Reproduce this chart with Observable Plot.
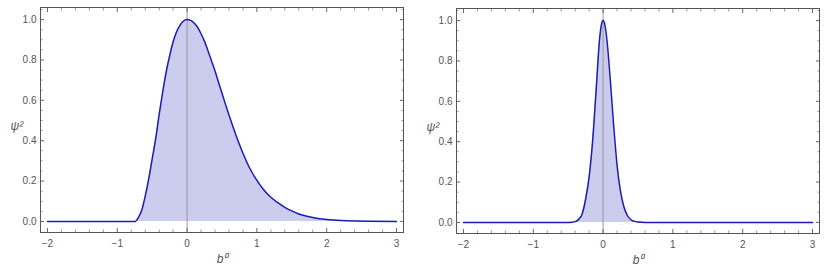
<!DOCTYPE html>
<html>
<head>
<meta charset="utf-8">
<script src="https://cdn.jsdelivr.net/npm/d3@7"></script>
<script src="https://cdn.jsdelivr.net/npm/@observablehq/plot@0.6"></script>
<style>
  html, body { margin: 0; padding: 0; background: white; }
  #row { display: flex; flex-direction: row; width: 831px; height: 274px; }
</style>
</head>
<body>
<div id="row"></div>
<script>
// Left panel: b0 values and psi^2 values
const leftB = [-2, -0.74, -0.70, -0.65, -0.60, -0.55, -0.50, -0.45, -0.40, -0.35, -0.30, -0.25, -0.20, -0.15, -0.10, -0.05, 0,
  0.05, 0.10, 0.15, 0.20, 0.25, 0.30, 0.35, 0.40, 0.45, 0.50, 0.55, 0.60, 0.65, 0.70, 0.75, 0.80, 0.90, 1.00,
  1.10, 1.20, 1.30, 1.40, 1.50, 1.60, 1.70, 1.80, 1.90, 2.00, 2.20, 2.40, 2.60, 3.00];
const leftPsi = [0, 0, 0.018, 0.055, 0.125, 0.21, 0.31, 0.41, 0.53, 0.64, 0.74, 0.82, 0.89, 0.94, 0.973, 0.993, 1.0,
  0.996, 0.983, 0.962, 0.93, 0.892, 0.845, 0.795, 0.745, 0.69, 0.635, 0.58, 0.527, 0.476, 0.427, 0.381, 0.338, 0.262, 0.203,
  0.156, 0.12, 0.093, 0.07, 0.052, 0.037, 0.027, 0.019, 0.013, 0.009, 0.004, 0.0015, 0.0005, 0];

// Right panel
const rightB = [-2, -0.50, -0.45, -0.40, -0.35, -0.30, -0.25, -0.20, -0.15, -0.10, -0.05, -0.025, 0, 0.025, 0.05,
  0.10, 0.15, 0.20, 0.25, 0.30, 0.35, 0.40, 0.45, 0.50, 0.60, 3.00];
const rightPsi = [0, 0, 0.001, 0.004, 0.015, 0.042, 0.116, 0.226, 0.404, 0.655, 0.91, 0.978, 1.0, 0.98, 0.92,
  0.721, 0.487, 0.284, 0.152, 0.075, 0.033, 0.013, 0.005, 0.002, 0, 0];

// Ticks
const xMajor = [-2, -1, 0, 1, 2, 3];
const xMinor = [-1.8, -1.6, -1.4, -1.2, -0.8, -0.6, -0.4, -0.2, 0.2, 0.4, 0.6, 0.8, 1.2, 1.4, 1.6, 1.8, 2.2, 2.4, 2.6, 2.8];
const yMajor = [0, 0.2, 0.4, 0.6, 0.8, 1.0];
const yMinor = [0.05, 0.1, 0.15, 0.25, 0.3, 0.35, 0.45, 0.5, 0.55, 0.65, 0.7, 0.75, 0.85, 0.9, 0.95, 1.05];

const xLabel = "b\u2070";
const yLabel = "\u03c8\u00b2";

const minus = d => d < 0 ? "\u2212" + Math.abs(d) : String(d);
const fmt1 = d3.format(".1f");

function panel(bs, ps, o) {
  const data = bs.map((b, i) => ({b, p: ps[i]}));
  const tickColor = "#666";
  const minorColor = "#999";
  return Plot.plot({
    width: o.width, height: 274,
    marginLeft: o.marginLeft, marginRight: o.marginRight, marginTop: o.marginTop, marginBottom: o.marginBottom,
    x: {domain: [-2.1, 3.1], label: null, axis: null},
    y: {domain: [-0.055, 1.06], label: null, axis: null},
    style: {fontFamily: "'Liberation Sans', Arial, sans-serif", fontSize: "10px", color: "#555", background: "white", overflow: "visible"},
    marks: [
      Plot.areaY(data, {x: "b", y: "p", y1: 0, fill: "#0000aa", fillOpacity: 0.2, curve: "monotone-x"}),
      Plot.ruleX([0], {stroke: "#999", strokeWidth: 1}),
      Plot.line(data, {x: "b", y: "p", stroke: "#1c1cb4", strokeWidth: 1.5, curve: "monotone-x"}),
      // tick marks (inward)
      Plot.axisX(xMajor, {anchor: "bottom", tickSize: -4, fill: "none", stroke: tickColor, label: null}),
      Plot.axisX(xMajor, {anchor: "top", tickSize: -4, fill: "none", stroke: tickColor, label: null}),
      Plot.axisX(xMinor, {anchor: "bottom", tickSize: -2.5, fill: "none", stroke: minorColor, label: null}),
      Plot.axisX(xMinor, {anchor: "top", tickSize: -2.5, fill: "none", stroke: minorColor, label: null}),
      Plot.axisY(yMajor, {anchor: "left", tickSize: -4, fill: "none", stroke: tickColor, label: null}),
      Plot.axisY(yMajor, {anchor: "right", tickSize: -4, fill: "none", stroke: tickColor, label: null}),
      Plot.axisY(yMinor, {anchor: "left", tickSize: -2.5, fill: "none", stroke: minorColor, label: null}),
      Plot.axisY(yMinor, {anchor: "right", tickSize: -2.5, fill: "none", stroke: minorColor, label: null}),
      // tick labels
      Plot.axisX(xMajor, {anchor: "bottom", tickSize: 0, tickPadding: 7, tickFormat: minus, fill: "#555", label: null}),
      Plot.axisY(yMajor, {anchor: "left", tickSize: 0, tickPadding: 4, tickFormat: fmt1, fill: "#555", label: null}),
      Plot.frame({stroke: "#555", strokeWidth: 1}),
      Plot.text([xLabel], {frameAnchor: "bottom", dy: 30, text: d => d, fontSize: 12, fontStyle: "italic", fill: "#555"}),
      Plot.text([yLabel], {frameAnchor: "left", dx: -30, dy: 6, text: d => d, fontSize: 12, fontStyle: "italic", fill: "#555"})
    ]
  });
}

const row = document.getElementById("row");
row.appendChild(panel(leftB, leftPsi, {width: 415, marginLeft: 40, marginRight: 12, marginTop: 7, marginBottom: 42}));
row.appendChild(panel(rightB, rightPsi, {width: 416, marginLeft: 41, marginRight: 12, marginTop: 8, marginBottom: 41}));
</script>
</body>
</html>
